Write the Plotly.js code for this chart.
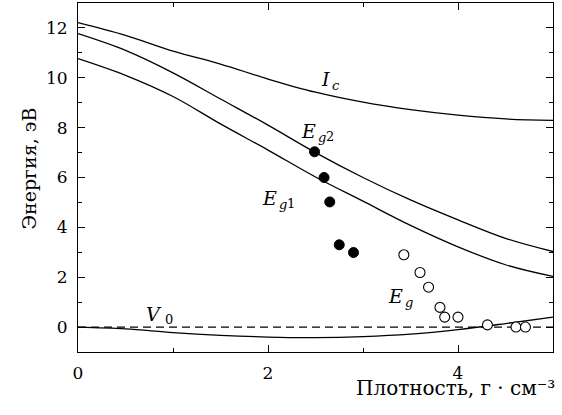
<!DOCTYPE html>
<html>
<head>
<meta charset="utf-8">
<script src="https://cdn.plot.ly/plotly-3.0.1.min.js"></script>
<style>html,body{margin:0;padding:0;background:#fff}#chart{width:562px;height:415px}</style>
</head>
<body>
<div id="chart"></div>
<script>
// Curves (density g/cm^3 -> energy eV)
const curveX = [0, 0.5, 1.0, 1.5, 2.0, 2.5, 3.0, 3.5, 4.0, 4.5, 5.0];
const icY  = [12.21, 11.7, 11.07, 10.55, 9.95, 9.42, 9.02, 8.72, 8.5, 8.35, 8.29];
const eg2Y = [11.77, 11.1, 10.2, 9.15, 8.1, 7.0, 6.0, 5.1, 4.3, 3.56, 3.03];
const eg1Y = [10.77, 10.1, 9.25, 8.15, 7.1, 6.02, 5.05, 4.08, 3.22, 2.5, 2.03];
const v0Y  = [0, -0.07, -0.22, -0.33, -0.40, -0.42, -0.38, -0.28, -0.1, 0.14, 0.40];
const zeroX = [0, 5];
const zeroY = [0, 0];
// Measured points
const filledX = [2.49, 2.59, 2.65, 2.75, 2.90];
const filledY = [7.03, 6.0, 5.02, 3.30, 2.99];
const openX = [3.43, 3.60, 3.69, 3.81, 3.86, 4.0, 4.31, 4.61, 4.71];
const openY = [2.90, 2.19, 1.6, 0.79, 0.40, 0.40, 0.09, 0.0, 0.0];
// Curve labels: main letter, italic subscript, upright subscript
const labelX    = [2.67, 2.53, 2.12, 3.44, 0.905];
const labelY    = [9.97, 7.88, 5.18, 1.25, 0.53];
const labelMain = ['I', 'E', 'E', 'E', 'V'];
const labelSubI = ['c', 'g', 'g', 'g', ''];
const labelSubN = ['', '2', '1', '', '0'];

const font = 'DejaVu Serif';
const line = (x, y) => ({x, y, mode: 'lines', type: 'scatter', line: {color: '#000', width: 1.3, shape: 'spline'}});

const traces = [
  {x: zeroX, y: zeroY, mode: 'lines', type: 'scatter', line: {color: '#000', width: 1.2, dash: '8px,5px'}},
  line(curveX, icY), line(curveX, eg2Y), line(curveX, eg1Y), line(curveX, v0Y),
  {x: filledX, y: filledY, mode: 'markers', type: 'scatter', marker: {color: '#000', size: 10, line: {color: '#000', width: 1}}},
  {x: openX, y: openY, mode: 'markers', type: 'scatter', marker: {color: '#fff', size: 10, line: {color: '#000', width: 1.1}}}
];

const annotations = [];
labelX.forEach((x, i) => {
  const y = labelY[i];
  annotations.push({x, y, xref: 'x', yref: 'y', xanchor: 'right', yanchor: 'middle', text: labelMain[i], showarrow: false,
    font: {family: font, size: 19, color: '#000', style: 'italic'}});
  let shift = 0;
  if (labelSubI[i]) {
    annotations.push({x, y, xref: 'x', yref: 'y', xanchor: 'left', yanchor: 'middle', xshift: -2, yshift: -7, text: labelSubI[i], showarrow: false,
      font: {family: font, size: 13, color: '#000', style: 'italic'}});
    shift = 7;
  }
  if (labelSubN[i]) {
    annotations.push({x, y, xref: 'x', yref: 'y', xanchor: 'left', yanchor: 'middle', xshift: shift - 1, yshift: -6, text: labelSubN[i], showarrow: false,
      font: {family: font, size: 13, color: '#000'}});
  }
});
annotations.push({x: 1, y: 0, xref: 'paper', yref: 'paper', xanchor: 'right', yanchor: 'top', yshift: -22, xshift: 4,
  text: 'Плотность, г · см⁻³', showarrow: false, font: {family: font, size: 20, color: '#000'}});
annotations.push({x: 0, y: 0.5, xref: 'paper', yref: 'paper', xanchor: 'center', yanchor: 'middle', xshift: -50, yshift: 9, textangle: -90,
  text: 'Энергия, эВ', showarrow: false, font: {family: font, size: 19, color: '#000'}});

const axisBase = (range) => ({range: range, dtick: 2, ticks: 'inside', ticklen: 7, tickwidth: 1, tickcolor: '#000',
  showline: true, linecolor: '#000', linewidth: 1, mirror: 'ticks', showgrid: false, zeroline: false,
  tickfont: {family: font, size: 17, color: '#000'}, ticklabelstandoff: 6,
  minor: {dtick: 1, ticks: 'inside', ticklen: 4, tickcolor: '#000'}});

const layout = {
  width: 562, height: 415,
  margin: {l: 78, r: 9, t: 3, b: 63},
  paper_bgcolor: '#fff', plot_bgcolor: '#fff',
  showlegend: false,
  font: {family: font, size: 17, color: '#000'},
  xaxis: axisBase([0, 5]),
  yaxis: axisBase([-1, 13]),
  annotations: annotations
};

Plotly.newPlot('chart', traces, layout, {displayModeBar: false, staticPlot: true});
</script>
</body>
</html>
